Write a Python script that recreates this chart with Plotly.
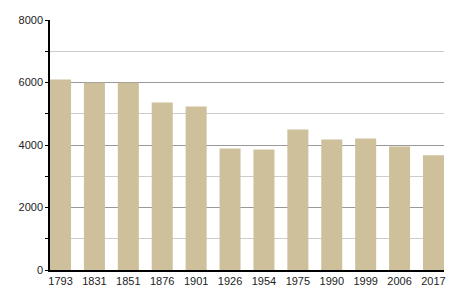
import plotly.graph_objects as go

years = ["1793", "1831", "1851", "1876", "1901", "1926", "1954", "1975", "1990", "1999", "2006", "2017"]
population = [6096, 5990, 5990, 5360, 5232, 3888, 3856, 4496, 4176, 4208, 3952, 3674]
y_ticks = [0, 2000, 4000, 6000, 8000]

fig = go.Figure(go.Bar(
    x=years, y=population,
    marker=dict(color="#cdc09a", line=dict(width=0)),
    width=0.62,
))

fig.update_layout(
    width=455, height=300,
    margin=dict(l=50, r=9, t=20, b=30),
    plot_bgcolor="white", paper_bgcolor="white",
    font=dict(family="Liberation Sans, Arial, sans-serif", size=11, color="#222"),
    showlegend=False,
)
fig.update_xaxes(
    type="category", range=[-0.31, 11.31],
    showline=True, linecolor="black", linewidth=1.5,
    ticks="", showgrid=False, tickfont=dict(size=11),
)
fig.update_yaxes(
    range=[0, 8000], tickvals=y_ticks,
    showline=True, linecolor="black", linewidth=1.5,
    ticks="outside", ticklen=3, tickcolor="black",
    showgrid=True, gridcolor="#999999", gridwidth=1,
    zeroline=False,
    minor=dict(dtick=1000, ticks="outside", ticklen=3, tickcolor="black",
               showgrid=True, gridcolor="#cccccc", gridwidth=1),
    tickfont=dict(size=11),
)

fig.write_html("out.html")
